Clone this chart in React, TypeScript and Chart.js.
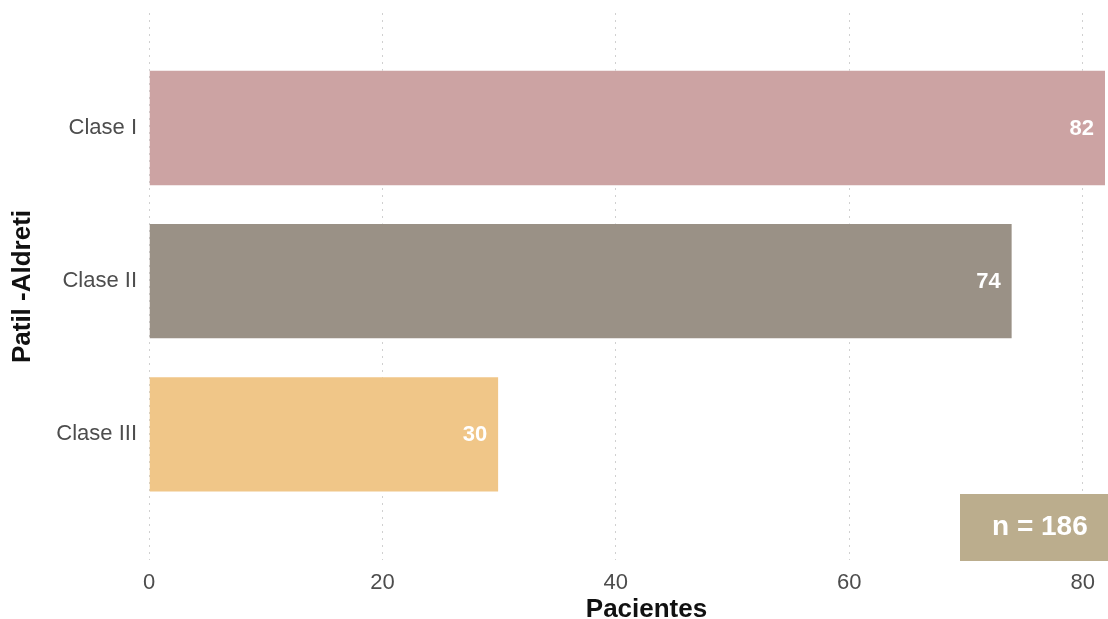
import { useEffect, useRef } from "react";
import { Chart, registerables } from "chart.js";

Chart.register(...registerables);

// Patients per Patil-Aldreti class
const categories = ["Clase I", "Clase II", "Clase III"];
const pacientes = [82, 74, 30];
const barColors = ["#CCA3A3", "#9A9186", "#F0C688"];
const xTicks = [0, 20, 40, 60, 80];
const xMax = 82;
const yTitle = "Patil -Aldreti";
const xTitle = "Pacientes";
const total = pacientes.reduce((a, b) => a + b, 0);

const FONT = "'Liberation Sans', Arial, Helvetica, sans-serif";
const WIDTH = 1108;
const HEIGHT = 619;

// White value labels inside the right end of each bar
const valueLabels = {
  id: "valueLabels",
  afterDatasetsDraw(chart: any) {
    const { ctx } = chart;
    const meta = chart.getDatasetMeta(0);
    ctx.save();
    ctx.font = `bold 22px ${FONT}`;
    ctx.fillStyle = "#ffffff";
    ctx.textAlign = "right";
    ctx.textBaseline = "middle";
    meta.data.forEach((bar: any, i: number) => {
      ctx.fillText(String(pacientes[i]), bar.x - 12, bar.y + 1);
    });
    ctx.restore();
  },
};

// X axis title and the sample-size badge
const annotations = {
  id: "annotations",
  afterDraw(chart: any) {
    const { ctx, chartArea } = chart;
    ctx.save();
    ctx.font = `bold 26px ${FONT}`;
    ctx.fillStyle = "#111111";
    ctx.textAlign = "center";
    ctx.textBaseline = "alphabetic";
    ctx.fillText(xTitle, (chartArea.left + chartArea.right) / 2 + 19, chart.height - 2);

    const boxW = 148;
    const boxH = 67;
    const boxX = chart.width - boxW;
    const boxY = chartArea.bottom - boxH + 1;
    ctx.fillStyle = "#BBAD8D";
    ctx.fillRect(boxX, boxY, boxW, boxH);
    ctx.font = `bold 28px ${FONT}`;
    ctx.fillStyle = "#ffffff";
    ctx.textAlign = "left";
    ctx.fillText(`n = ${total}`, boxX + 32, boxY + 41);
    ctx.restore();
  },
};

export default function App() {
  const canvasRef = useRef<HTMLCanvasElement | null>(null);

  useEffect(() => {
    const canvas = canvasRef.current;
    if (!canvas) return;
    const chart = new Chart(canvas, {
      type: "bar",
      data: {
        datasets: [
          {
            data: categories.map((_, i) => ({ x: pacientes[i], y: i })),
            backgroundColor: barColors,
            borderColor: "rgba(255,255,255,0.45)",
            borderWidth: 1,
            barPercentage: 0.76,
            categoryPercentage: 1,
          },
        ],
      },
      options: {
        indexAxis: "y",
        responsive: false,
        animation: false,
        devicePixelRatio: 1,
        layout: { padding: { left: 0, right: 2, top: 13, bottom: 0 } },
        plugins: {
          legend: { display: false },
          tooltip: { enabled: false },
        },
        scales: {
          x: {
            type: "linear",
            min: 0,
            max: xMax,
            afterBuildTicks: (s: any) => {
              s.ticks = xTicks.map((v) => ({ value: v }));
            },
            afterFit: (s: any) => {
              s.height = 59;
            },
            grid: { color: "#d0d0d0", lineWidth: 1, drawTicks: false },
            border: { display: false, dash: [2, 5] },
            ticks: {
              color: "#4d4d4d",
              font: { size: 22, family: FONT },
              padding: 10,
            },
          },
          y: {
            type: "linear",
            reverse: true,
            offset: false,
            min: -0.75,
            max: 2.82,
            afterBuildTicks: (s: any) => {
              s.ticks = categories.map((_, i) => ({ value: i }));
            },
            afterFit: (s: any) => {
              s.width = 149;
            },
            grid: { display: false, drawTicks: false, offset: false },
            border: { display: false },
            ticks: {
              color: "#4d4d4d",
              font: { size: 22, family: FONT, lineHeight: 0.05 },
              padding: 12,
              callback: (v: any) => categories[v] ?? "",
            },
            title: {
              display: true,
              text: yTitle,
              color: "#111111",
              font: { size: 26, weight: "bold", family: FONT, lineHeight: 1 },
              padding: { top: 10, bottom: 0 },
            },
          },
        },
      },
      plugins: [valueLabels, annotations],
    } as any);
    return () => chart.destroy();
  }, []);

  return (
    <div
      style={{
        position: "fixed",
        left: 0,
        top: 0,
        width: WIDTH,
        height: HEIGHT,
        background: "#ffffff",
        overflow: "hidden",
      }}
    >
      <canvas ref={canvasRef} width={WIDTH} height={HEIGHT} style={{ display: "block" }} />
    </div>
  );
}
